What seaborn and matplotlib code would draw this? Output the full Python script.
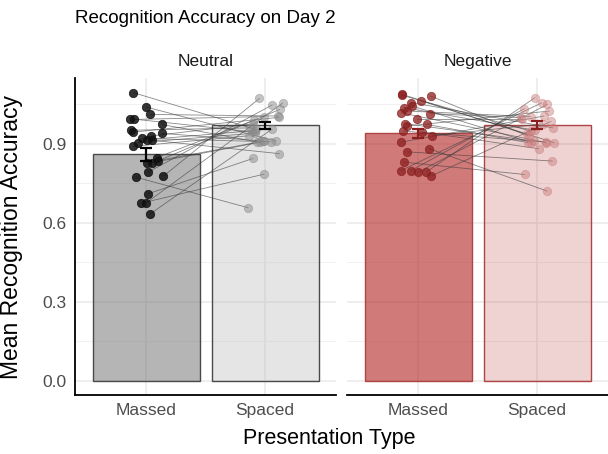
import numpy as np
import pandas as pd
import matplotlib
matplotlib.use("Agg")
import matplotlib.pyplot as plt
import seaborn as sns

# --- data ---
types = ["Massed", "Spaced"]
panels = ["Neutral", "Negative"]

bar_means = {"Neutral": [0.859, 0.970], "Negative": [0.939, 0.970]}
bar_se = {"Neutral": [0.026, 0.013], "Negative": [0.018, 0.015]}

# one value per subject, same order in Massed and Spaced (paired lines)
neutral_massed = [1.094, 1.039, 1.011, 0.995, 0.992, 0.973, 0.951, 0.944, 0.939,
                  0.929, 0.920, 0.915, 0.913, 0.904, 0.890, 0.847, 0.828, 0.828,
                  0.834, 0.792, 0.777, 0.773, 0.710, 0.674, 0.674, 0.632]
neutral_spaced = [0.954, 0.910, 1.005, 0.945, 1.003, 0.907, 0.960, 1.000, 0.910,
                  0.975, 0.907, 0.950, 0.862, 0.940, 0.930, 0.990, 0.905, 0.910,
                  1.030, 1.047, 1.072, 0.657, 0.844, 1.055, 0.784, 0.955]
negative_massed = [1.087, 1.084, 1.081, 1.062, 1.056, 1.043, 1.037, 1.024, 1.017,
                   1.014, 0.992, 0.976, 0.973, 0.967, 0.948, 0.944, 0.930, 0.906,
                   0.881, 0.869, 0.830, 0.798, 0.798, 0.793, 0.792, 0.777]
negative_spaced = [0.935, 0.948, 0.929, 0.904, 0.960, 0.904, 0.951, 1.003, 0.904,
                   0.999, 0.992, 0.910, 0.904, 1.024, 0.906, 0.881, 0.975, 1.005,
                   0.720, 0.834, 0.783, 1.055, 1.033, 1.075, 1.049, 0.985]

subjects = {"Neutral": (neutral_massed, neutral_spaced),
            "Negative": (negative_massed, negative_spaced)}

# --- styles ---
bar_fill = {"Neutral": [(0.4, 0.4, 0.4, 0.48), (0.7, 0.7, 0.7, 0.33)],
            "Negative": [(0.698, 0.133, 0.133, 0.6), (0.698, 0.133, 0.133, 0.2)]}
bar_edge = {"Neutral": "#4a4a4a", "Negative": "#b04444"}
pt_color = {"Neutral": ["#111111", "#8a8a8a"], "Negative": ["#8b1f1f", "#c97a7a"]}
pt_alpha = {"Neutral": [0.85, 0.5], "Negative": [0.75, 0.45]}
err_color = {"Neutral": "black", "Negative": "#8b1f1f"}

sns.set_style("white")
plt.rcParams["font.family"] = ["Liberation Sans", "DejaVu Sans"]

fig = plt.figure(figsize=(6.08, 4.54), dpi=100)
ax_l = fig.add_axes([0.1234, 0.130, 0.430, 0.698])
ax_r = fig.add_axes([0.5707, 0.130, 0.430, 0.698], sharey=ax_l)

rng = np.random.default_rng(11)

for ax, panel in zip([ax_l, ax_r], panels):
    df = pd.DataFrame({"type": types, "mean": bar_means[panel]})
    sns.barplot(data=df, x="type", y="mean", hue="type", order=types,
                palette=["#cccccc", "#eeeeee"], width=0.9, errorbar=None,
                legend=False, edgecolor=bar_edge[panel], linewidth=1.0,
                ax=ax, zorder=2)
    for patch, fc in zip(ax.patches, bar_fill[panel]):
        patch.set_facecolor(fc)

    massed, spaced = subjects[panel]
    n = len(massed)
    jx_m = 0 + rng.uniform(-0.15, 0.15, n)
    jx_s = 1 + rng.uniform(-0.15, 0.15, n)

    for i in range(n):
        ax.plot([jx_m[i], jx_s[i]], [massed[i], spaced[i]], color="#3a3a3a",
                lw=0.6, alpha=0.6, zorder=3)

    pts = pd.DataFrame({"x": np.concatenate([jx_m, jx_s]),
                        "y": massed + spaced,
                        "type": ["Massed"] * n + ["Spaced"] * n})
    for k, t in enumerate(types):
        sub = pts[pts["type"] == t]
        sns.scatterplot(data=sub, x="x", y="y", color=pt_color[panel][k],
                        alpha=pt_alpha[panel][k], s=36, edgecolor=pt_color[panel][k],
                        linewidth=0.6, ax=ax, zorder=4)

    ax.errorbar([0, 1], bar_means[panel], yerr=bar_se[panel], fmt="none",
                ecolor=err_color[panel], elinewidth=1.6, capsize=4.5,
                capthick=1.6, zorder=5)

    ax.set_xlim(-0.6, 1.6)
    ax.set_ylim(-0.054, 1.149)
    ax.set_xticks([0, 1])
    ax.set_xticklabels(types)
    ax.set_yticks([0.0, 0.3, 0.6, 0.9])
    ax.set_yticks([0.15, 0.45, 0.75, 1.05], minor=True)
    ax.grid(which="major", color="#ebebeb", lw=1.2, zorder=0)
    ax.grid(which="minor", axis="y", color="#f1f1f1", lw=0.7, zorder=0)
    ax.set_axisbelow(True)
    ax.tick_params(axis="both", which="both", length=0, labelsize=12.5,
                   labelcolor="#4d4d4d", pad=6)
    ax.set_xlabel("")
    ax.set_ylabel("")
    ax.set_title(panel, fontsize=12.5, pad=9, color="#1a1a1a")
    for side in ["top", "right", "left"]:
        ax.spines[side].set_visible(False)
    ax.spines["bottom"].set_color("black")
    ax.spines["bottom"].set_linewidth(1.3)

ax_l.spines["left"].set_visible(True)
ax_l.spines["left"].set_color("black")
ax_l.spines["left"].set_linewidth(1.3)
ax_l.set_yticklabels(["0.0", "0.3", "0.6", "0.9"])
ax_r.tick_params(axis="y", labelleft=False)

ax_l.set_ylabel("Mean Recognition Accuracy", fontsize=16.5, color="black")
ax_l.yaxis.set_label_coords(-0.2, 0.5)
fig.text(0.541, 0.035, "Presentation Type", fontsize=15.5, ha="center",
         va="center", color="black")
fig.text(0.1234, 0.96, "Recognition Accuracy on Day 2", fontsize=13.5,
         ha="left", va="center", color="black")

fig.savefig("out.png", dpi=100)
